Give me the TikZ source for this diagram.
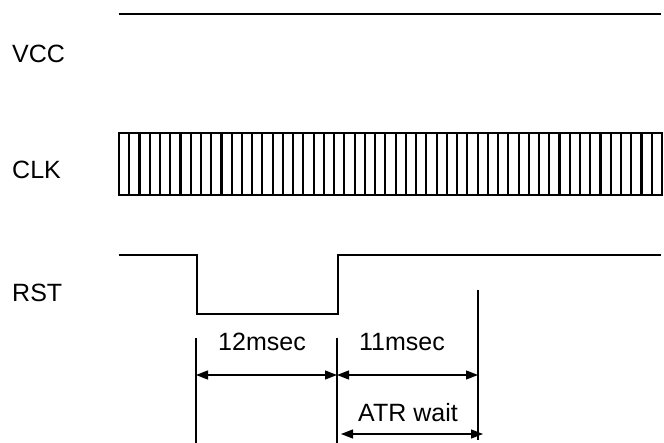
\documentclass[tikz,border=0pt]{standalone}
\usepackage{fontspec}
\setmainfont{Liberation Sans}
\usetikzlibrary{arrows.meta}
\begin{document}
\begin{tikzpicture}[x=1pt,y=-1pt,
  sig/.style={line width=1.4pt,line join=miter},
  clkline/.style={line width=2.1pt},
  dimline/.style={line width=1.3pt},
  dimarrow/.style={line width=1.3pt,{Triangle[length=12pt,width=9pt]}-{Triangle[length=12pt,width=9pt]}},
  lbl/.style={font=\fontsize{25}{30}\selectfont,inner sep=0pt}]
\useasboundingbox (0,0) rectangle (664,443);
% labels
\node[lbl,anchor=west] (vcc) at (12,54) {VCC};
\node[lbl,anchor=west] (clk) at (12,170) {CLK};
\node[lbl,anchor=west] (rst) at (12,293) {RST};
% VCC
\coordinate (v0) at (119,14);
\coordinate (v1) at (661,14);
\draw[sig] (v0) -- (v1);
% CLK box
\coordinate (c0) at (119,133);
\coordinate (c1) at (662,195);
\draw[sig] (c0) rectangle (c1);
\foreach \i in {1,...,52} {
  \draw[clkline] (119+\i*10.245,133) -- (119+\i*10.245,195);
}
% RST
\coordinate (r0) at (119,255);
\coordinate (r1) at (197,255);
\coordinate (r2) at (197,314);
\coordinate (r3) at (338,314);
\coordinate (r4) at (338,255);
\coordinate (r5) at (661,255);
\draw[sig] (r0) -- (r1) -- (r2) -- (r3) -- (r4) -- (r5);
% dimension lines
\coordinate (d1a) at (196,338);
\coordinate (d1b) at (196,443);
\coordinate (d2a) at (337,338);
\coordinate (d2b) at (337,443);
\coordinate (d3a) at (478,290);
\coordinate (d3b) at (478,440);
\draw[dimline] (d1a) -- (d1b);
\draw[dimline] (d2a) -- (d2b);
\draw[dimline] (d3a) -- (d3b);
\coordinate (a1) at (196,375);
\coordinate (a2) at (337,375);
\coordinate (a3) at (478,375);
\draw[dimarrow] (a1) -- (a2);
\draw[dimarrow] (a2) -- (a3);
\coordinate (b1) at (341,434);
\coordinate (b2) at (483,434);
\draw[dimarrow] (b1) -- (b2);
\node[lbl] (t12) at (262,342) {12msec};
\node[lbl] (t11) at (402,342) {11msec};
\node[lbl] (atr) at (408,413) {ATR wait};
\end{tikzpicture}
\end{document}
